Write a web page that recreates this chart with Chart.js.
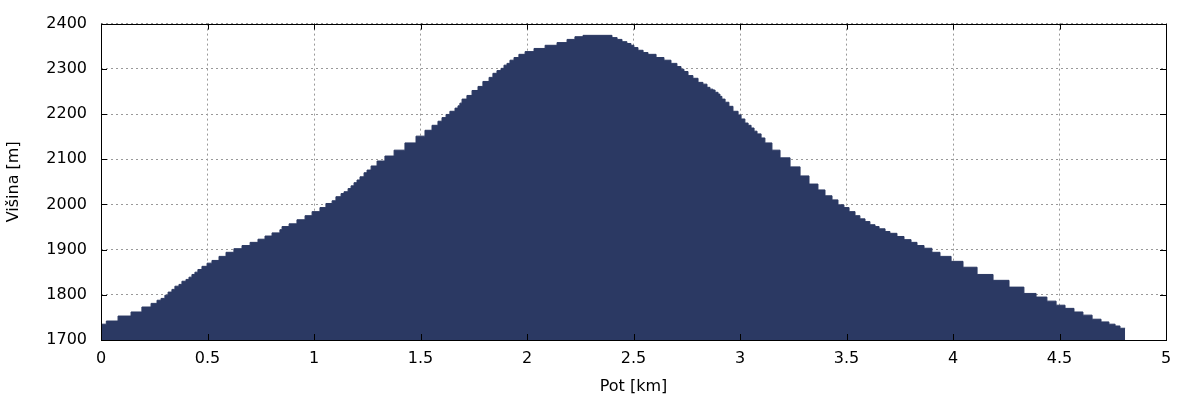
<!DOCTYPE html>
<html>
<head>
<meta charset="utf-8">
<script src="https://cdn.jsdelivr.net/npm/chart.js@4/dist/chart.umd.min.js"></script>
<style>
  html, body { margin: 0; padding: 0; background: #fff; }
  #wrap { width: 1200px; height: 400px; position: relative; }
</style>
</head>
<body>
<div id="wrap"><canvas id="c" width="1200" height="400"></canvas></div>
<script>
// Step start positions along the path (km); final entry is the end of the last step
const distanceKm = [
  0.000, 0.025, 0.080, 0.141, 0.192, 0.235, 0.263, 0.282, 0.300, 0.315,
  0.333, 0.347, 0.366, 0.380, 0.399, 0.413, 0.427, 0.441, 0.455, 0.474,
  0.498, 0.521, 0.554, 0.587, 0.624, 0.662, 0.700, 0.737, 0.770, 0.803,
  0.840, 0.850, 0.883, 0.920, 0.958, 0.991, 1.028, 1.056, 1.085, 1.103,
  1.127, 1.141, 1.160, 1.174, 1.188, 1.202, 1.216, 1.235, 1.249, 1.268,
  1.296, 1.333, 1.376, 1.427, 1.479, 1.521, 1.554, 1.582, 1.601, 1.620,
  1.638, 1.662, 1.676, 1.685, 1.695, 1.718, 1.742, 1.770, 1.793, 1.822,
  1.840, 1.859, 1.878, 1.892, 1.906, 1.920, 1.939, 1.962, 1.991, 2.033,
  2.085, 2.141, 2.188, 2.225, 2.263, 2.399, 2.423, 2.446, 2.469, 2.488,
  2.502, 2.521, 2.545, 2.568, 2.606, 2.643, 2.676, 2.704, 2.723, 2.737,
  2.756, 2.779, 2.803, 2.826, 2.845, 2.859, 2.873, 2.883, 2.897, 2.906,
  2.915, 2.930, 2.948, 2.967, 2.991, 3.005, 3.023, 3.038, 3.052, 3.066,
  3.080, 3.099, 3.117, 3.150, 3.188, 3.235, 3.282, 3.324, 3.366, 3.399,
  3.432, 3.460, 3.488, 3.512, 3.540, 3.563, 3.587, 3.610, 3.634, 3.653,
  3.681, 3.704, 3.737, 3.770, 3.803, 3.831, 3.864, 3.901, 3.939, 3.991,
  4.047, 4.113, 4.188, 4.263, 4.333, 4.390, 4.441, 4.484, 4.526, 4.568,
  4.610, 4.653, 4.695, 4.732, 4.761, 4.784, 4.808
];

// Elevation of each step (m)
const elevationM = [
  1735, 1742, 1753, 1762, 1773, 1781, 1788, 1792, 1799, 1806,
  1812, 1819, 1823, 1830, 1834, 1839, 1845, 1850, 1856, 1863,
  1870, 1876, 1885, 1894, 1902, 1909, 1916, 1923, 1930, 1937,
  1944, 1951, 1957, 1966, 1975, 1984, 1993, 2002, 2008, 2017,
  2024, 2028, 2035, 2041, 2048, 2054, 2061, 2070, 2076, 2085,
  2096, 2107, 2120, 2136, 2151, 2164, 2175, 2184, 2192, 2199,
  2206, 2213, 2218, 2224, 2233, 2241, 2252, 2261, 2272, 2281,
  2290, 2296, 2301, 2308, 2312, 2319, 2325, 2332, 2338, 2345,
  2352, 2358, 2365, 2371, 2374, 2369, 2365, 2360, 2356, 2352,
  2347, 2341, 2336, 2332, 2325, 2319, 2312, 2305, 2299, 2294,
  2285, 2279, 2270, 2266, 2259, 2255, 2253, 2248, 2244, 2239,
  2233, 2226, 2217, 2206, 2198, 2189, 2180, 2175, 2169, 2162,
  2156, 2147, 2136, 2120, 2103, 2083, 2063, 2045, 2032, 2019,
  2010, 1999, 1993, 1984, 1975, 1968, 1962, 1955, 1951, 1946,
  1940, 1936, 1929, 1922, 1916, 1909, 1903, 1894, 1885, 1874,
  1861, 1845, 1832, 1817, 1803, 1795, 1786, 1777, 1770, 1762,
  1755, 1746, 1740, 1735, 1731, 1726
];

const xTicks = [0, 0.5, 1, 1.5, 2, 2.5, 3, 3.5, 4, 4.5, 5];
const yTicks = [1700, 1800, 1900, 2000, 2100, 2200, 2300, 2400];
const xTitle = 'Pot [km]';
const yTitle = 'Višina [m]';

const points = distanceKm.map((d, i) => ({
  x: d,
  y: elevationM[Math.min(i, elevationM.length - 1)]
}));

const FONT = 'DejaVu Sans';
const FS = 16;

const frame = {
  id: 'frame',
  afterDatasetsDraw(chart) {
    const { ctx, chartArea: a, scales } = chart;
    ctx.save();
    ctx.strokeStyle = '#000';
    ctx.lineWidth = 1;
    const tl = 6;
    ctx.beginPath();
    yTicks.forEach(v => {
      const y = Math.round(scales.y.getPixelForValue(v)) + 0.5;
      ctx.moveTo(a.left, y); ctx.lineTo(a.left + tl, y);
      ctx.moveTo(a.right, y); ctx.lineTo(a.right - tl, y);
    });
    xTicks.forEach(v => {
      const x = Math.round(scales.x.getPixelForValue(v)) + 0.5;
      ctx.moveTo(x, a.top); ctx.lineTo(x, a.top + tl);
      ctx.moveTo(x, a.bottom); ctx.lineTo(x, a.bottom - tl);
    });
    ctx.stroke();
    ctx.strokeRect(Math.round(a.left) + 0.5, Math.round(a.top) + 0.5,
                   Math.round(a.right - a.left), Math.round(a.bottom - a.top));
    ctx.restore();
  }
};

new Chart(document.getElementById('c'), {
  type: 'line',
  data: {
    datasets: [{
      data: points,
      stepped: 'before',
      fill: 'start',
      backgroundColor: '#2b3963',
      borderColor: '#2b3963',
      borderWidth: 1,
      pointRadius: 0,
      tension: 0
    }]
  },
  options: {
    responsive: false,
    animation: false,
    devicePixelRatio: 1,
    layout: { padding: { left: 0, right: 34, top: 22, bottom: 0 } },
    plugins: { legend: { display: false }, tooltip: { enabled: false } },
    scales: {
      x: {
        type: 'linear',
        min: 0, max: 5,
        afterFit(s) { s.height = 60; },
        afterBuildTicks(s) { s.ticks = xTicks.map(v => ({ value: v })); },
        ticks: {
          color: '#000',
          font: { family: FONT, size: FS },
          padding: 9,
          maxRotation: 0,
          callback: v => String(v)
        },
        grid: {
          color: '#999',
          lineWidth: 1,
          drawTicks: false
        },
        border: { display: false, dash: [2, 3] },
        title: {
          display: true, text: xTitle, color: '#000',
          font: { family: FONT, size: FS },
          padding: { top: 6, bottom: 4 }
        }
      },
      y: {
        type: 'linear',
        min: 1700, max: 2400,
        afterFit(s) { s.width = 101; },
        afterBuildTicks(s) { s.ticks = yTicks.map(v => ({ value: v })); },
        ticks: {
          color: '#000',
          font: { family: FONT, size: FS },
          padding: 14,
          callback: v => String(v)
        },
        grid: {
          color: '#999',
          lineWidth: 1,
          drawTicks: false
        },
        border: { display: false, dash: [2, 3] },
        title: {
          display: true, text: yTitle, color: '#000',
          font: { family: FONT, size: FS },
          padding: { top: 4, bottom: 0 }
        }
      }
    }
  },
  plugins: [frame]
});
</script>
</body>
</html>
